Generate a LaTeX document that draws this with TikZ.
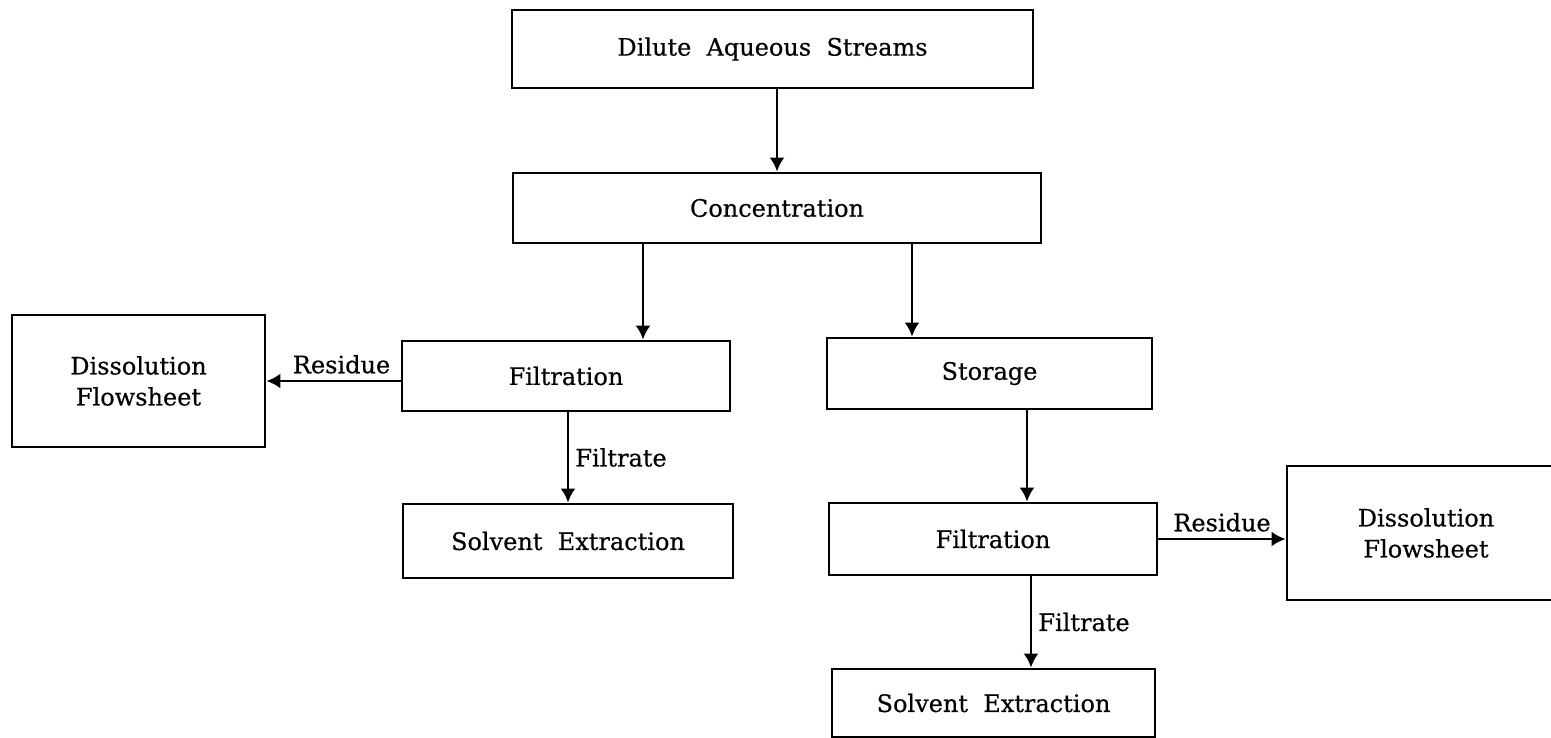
\documentclass[tikz,border=0pt]{standalone}
\usepackage{fontspec}
\setmainfont{DejaVu Serif}
\newfontfamily\chartfont[FakeBold=0.4]{DejaVu Serif}
\usetikzlibrary{arrows.meta}

\tikzset{
  block/.style={draw, line width=1.4pt, align=center, inner sep=0pt,
                font=\chartfont\fontsize{12}{15.5}\selectfont},
  flow/.style={line width=1.4pt, -{Latex[length=7pt,width=7.5pt]}},
  lbl/.style={font=\chartfont\fontsize{12}{14}\selectfont, inner sep=3pt},
}

\begin{document}
\begin{tikzpicture}[x=0.5pt,y=-0.5pt]

\useasboundingbox (0,0) rectangle (1551,738);

% Boxes
\node[block, minimum width=260.5pt, minimum height=39pt] (dilute) at ( 772.5, 49.0) {Dilute\ \ Aqueous\ \ Streams};
\node[block, minimum width=264.0pt, minimum height=35pt] (conc)   at ( 777.0,208.0) {Concentration};
\node[block, minimum width=164.0pt, minimum height=35pt] (filtL)  at ( 566.0,376.0) {Filtration};
\node[block, minimum width=162.5pt, minimum height=35.5pt] (stor) at ( 989.5,373.5) {Storage};
\node[block, minimum width=126.5pt, minimum height=66pt] (dissL)  at ( 138.5,381.0) {Dissolution\\Flowsheet};
\node[block, minimum width=165.0pt, minimum height=37pt] (solvL)  at ( 568.0,541.0) {Solvent\ \ Extraction};
\node[block, minimum width=164.0pt, minimum height=36pt] (filtR)  at ( 993.0,539.0) {Filtration};
\node[block, minimum width=139.0pt, minimum height=67pt] (dissR)  at (1426.0,533.0) {Dissolution\\Flowsheet};
\node[block, minimum width=161.5pt, minimum height=34pt] (solvR)  at ( 993.5,703.0) {Solvent\ \ Extraction};

% x positions of the off-centre streams
\coordinate (xL)  at ( 643,0);
\coordinate (xS)  at ( 912,0);
\coordinate (xF)  at (1027,0);
\coordinate (xE)  at (1031,0);

% Streams
\draw [flow] (dilute.south -| conc.north) -- (conc.north);
\draw [flow] (conc.south -| xL) -- (filtL.north -| xL);
\draw [flow] (conc.south -| xS) -- (stor.north -| xS);
\draw [flow] (filtL.west |- dissL.east) -- node[lbl, above, pos=0.44] {Residue} (dissL.east);
\draw [flow] (filtL.south -| solvL.north) -- node[lbl, right] {Filtrate} (solvL.north);
\draw [flow] (stor.south -| xF) -- (filtR.north -| xF);
\draw [flow] (filtR.east) -- node[lbl, above] {Residue} (filtR.east -| dissR.west);
\draw [flow] (filtR.south -| xE) -- node[lbl, right] {Filtrate} (solvR.north -| xE);

\end{tikzpicture}
\end{document}
